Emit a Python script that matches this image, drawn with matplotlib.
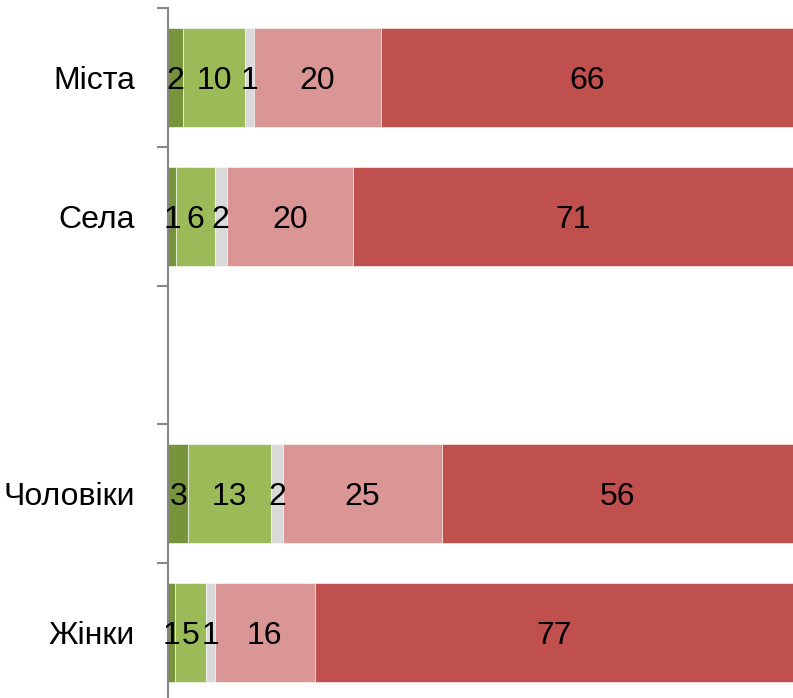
import numpy as np
import matplotlib.pyplot as plt
from matplotlib import font_manager

# categories top to bottom (empty slot between the two groups)
categories = ['Міста', 'Села', '', 'Чоловіки', 'Жінки']

# segment values per category, left to right
s1 = [2.4, 1.2, 0, 3.2, 1.1]
s2 = [9.9, 6.2, 0, 13.2, 5.0]
s3 = [1.4, 2.0, 0, 2.0, 1.3]
s4 = [20.4, 20.1, 0, 25.4, 16.1]
s5 = [65.9, 70.6, 0, 56.2, 76.6]

colors = ['#77933C', '#9BBB59', '#D9D9D9', '#D99694', '#C0504D']

names = [f.name for f in font_manager.fontManager.ttflist]
fam = 'Liberation Sans Narrow' if 'Liberation Sans Narrow' in names else 'Liberation Sans'
fs = 27 if fam == 'Liberation Sans Narrow' else 23
plt.rcParams['font.family'] = [fam, 'DejaVu Sans']

fig = plt.figure(figsize=(7.93, 6.98), dpi=100)
ax = fig.add_axes([168.3 / 793, -4 / 698, 1 - 168.3 / 793, 694 / 698])

y = np.arange(len(categories))
left = np.zeros(len(categories))
for vals, c in zip([s1, s2, s3, s4, s5], colors):
    vals = np.array(vals, dtype=float)
    ax.barh(y, vals, left=left, height=0.715, color=c, edgecolor='white', linewidth=0.4)
    for yi, l, v in zip(y, left, vals):
        if v > 0:
            ax.text(l + v / 2, yi, '%d' % round(v), ha='center', va='center_baseline',
                    fontsize=fs, color='black')
    left += vals

ax.set_xlim(0, 100)
ax.set_ylim(len(categories) - 0.5, -0.5)
ax.set_yticks(y)
ax.set_yticklabels(categories, fontsize=fs)
ax.set_yticks(np.arange(len(categories) + 1) - 0.5, minor=True)
ax.tick_params(axis='y', which='major', length=0, pad=24)
ax.tick_params(axis='y', which='minor', length=8, width=1.5, color='#868686')
ax.xaxis.set_visible(False)
for s in ['top', 'right', 'bottom']:
    ax.spines[s].set_visible(False)
ax.spines['left'].set_color('#868686')
ax.spines['left'].set_linewidth(1.5)

fig.savefig('out.png', dpi=100)
